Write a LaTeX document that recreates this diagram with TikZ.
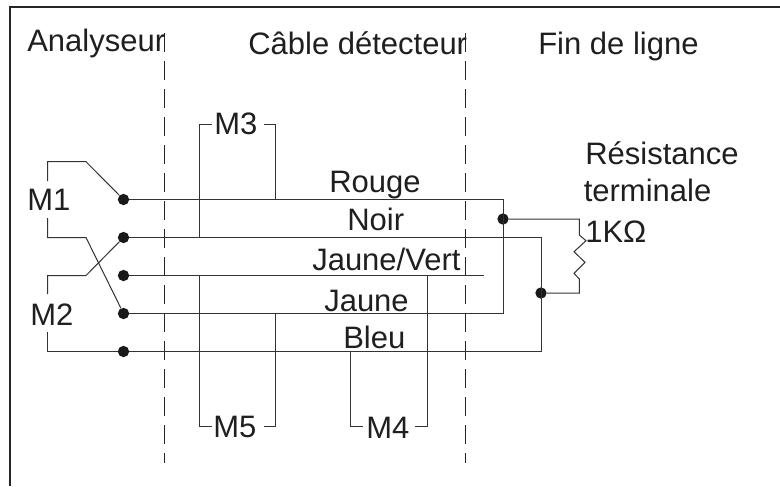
\documentclass[tikz,border=0pt]{standalone}
\usepackage{fontspec}
\setmainfont{Liberation Sans}
\usetikzlibrary{positioning, calc}

\tikzset{
    wire/.style={line width=0.75pt, draw=black!80},
    lbl/.style={anchor=base west, inner sep=0pt, text=black!88, font=\fontsize{23.25}{28}\selectfont},
    junction/.style={circle, fill=black!90, inner sep=0pt, minimum size=8.5pt},
    zone/.style={line width=0.6pt, draw=black!85, dash pattern=on 14.25pt off 6.75pt},
}

\begin{document}
\begin{tikzpicture}[x=0.75pt, y=-0.75pt]
    \useasboundingbox (0,0) rectangle (780,486);

    % Frame
    \draw[line width=1.9pt, draw=black!85] (10,486) -- (10,7) -- (780,7);

    % Zone limits
    \coordinate (z1a) at (164,33);
    \coordinate (z1b) at (164,463);
    \coordinate (z2a) at (465,33);
    \coordinate (z2b) at (465,463);
    \draw[zone] (z1a) -- (z1b);
    \draw[zone] (z2a) -- (z2b);

    % Titles
    \node[lbl] (analyseur) at (27,51) {Analyseur};
    \node[lbl] (cable) at (248,54) {Câble détecteur};
    \node[lbl] (fin) at (538,54) {Fin de ligne};

    % Terminals
    \node[junction] (t1) at (123.5,199.5) {};
    \node[junction] (t2) at (123.5,237.5) {};
    \node[junction] (t3) at (123.5,275.5) {};
    \node[junction] (t4) at (123.5,313.5) {};
    \node[junction] (t5) at (123.5,351.5) {};

    % Junctions at the line end
    \node[junction] (j1) at (503,219) {};
    \node[junction] (j2) at (541,293) {};

    % Wire colours
    \node[lbl] (rouge) at (329,192) {Rouge};
    \node[lbl] (noir) at (347,230.5) {Noir};
    \node[lbl] (jv) at (312,270) {Jaune/Vert};
    \node[lbl] (jaune) at (324,311.5) {Jaune};
    \node[lbl] (bleu) at (343,348) {Bleu};

    % Wires
    \coordinate (r1) at (503,199.5);
    \coordinate (r2) at (503,313.5);
    \coordinate (n1) at (541,237.5);
    \coordinate (n2) at (541,351.5);
    \coordinate (v1) at (484,275.5);
    \draw[wire] (t1) -- (r1) -- (r2) -- (t4);
    \draw[wire] (t2) -- (n1) -- (n2) -- (t5);
    \draw[wire] (t3) -- (v1);

    % M1 and M2
    \node[lbl] (m1) at (27,210.5) {M1};
    \node[lbl] (m2) at (30,325) {M2};
    \coordinate (m1a) at (47.7,181);
    \coordinate (m1b) at (47.7,161.7);
    \coordinate (m1c) at (86,161.7);
    \coordinate (m1d) at (47.7,218);
    \coordinate (m1e) at (47.7,237.5);
    \coordinate (m1f) at (86,237.5);
    \coordinate (m2a) at (47.7,294);
    \coordinate (m2b) at (47.7,275.5);
    \coordinate (m2c) at (86,275.5);
    \coordinate (m2d) at (47.7,332);
    \coordinate (m2e) at (47.7,351.5);
    \draw[wire] (m1a) -- (m1b) -- (m1c) -- (t1);
    \draw[wire] (m1d) -- (m1e) -- (m1f) -- (t4);
    \draw[wire] (m2a) -- (m2b) -- (m2c) -- (t2);
    \draw[wire] (m2d) -- (m2e) -- (t5);

    % M3
    \node[lbl] (m3) at (214,134) {M3};
    \coordinate (m3a) at (199.3,237.5);
    \coordinate (m3b) at (199.3,124);
    \coordinate (m3c) at (212,124);
    \coordinate (m3d) at (264,124);
    \coordinate (m3e) at (275.5,124);
    \coordinate (m3f) at (275.5,199.5);
    \draw[wire] (m3a) -- (m3b) -- (m3c);
    \draw[wire] (m3d) -- (m3e) -- (m3f);

    % M5
    \node[lbl] (m5) at (213,437) {M5};
    \coordinate (m5a) at (199.3,275.5);
    \coordinate (m5b) at (199.3,426.7);
    \coordinate (m5c) at (212,426.7);
    \coordinate (m5d) at (264,426.7);
    \coordinate (m5e) at (275.5,426.7);
    \coordinate (m5f) at (275.5,313.5);
    \draw[wire] (m5a) -- (m5b) -- (m5c);
    \draw[wire] (m5d) -- (m5e) -- (m5f);

    % M4
    \node[lbl] (m4) at (366,438) {M4};
    \coordinate (m4a) at (350.7,351.5);
    \coordinate (m4b) at (350.7,426.7);
    \coordinate (m4c) at (363,426.7);
    \coordinate (m4d) at (415,426.7);
    \coordinate (m4e) at (427,426.7);
    \coordinate (m4f) at (427,275.5);
    \draw[wire] (m4a) -- (m4b) -- (m4c);
    \draw[wire] (m4d) -- (m4e) -- (m4f);

    % Terminal resistor
    \node[lbl] (res) at (585,164) {Résistance};
    \node[lbl] (term) at (583.5,201) {terminale};
    \node[lbl] (val) at (585,242) {1KΩ};
    \draw[wire] (j1) -- (579.3,219) -- (579.3,235) -- (586,240.7) -- (574,251.7)
        -- (585,262.3) -- (574,273.3) -- (579.3,279) -- (579.3,293) -- (j2);
\end{tikzpicture}
\end{document}
